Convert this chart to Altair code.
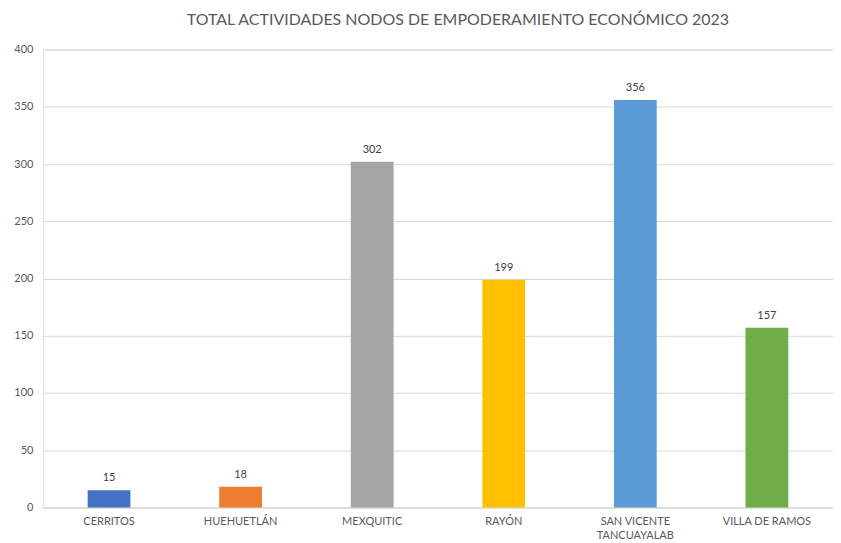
import altair as alt
import pandas as pd

categories = ["CERRITOS", "HUEHUETLÁN", "MEXQUITIC", "RAYÓN", "SAN VICENTE TANCUAYALAB", "VILLA DE RAMOS"]
values = [15, 18, 302, 199, 356, 157]
colors = ["#4472C4", "#ED7D31", "#A5A5A5", "#FFC000", "#5B9BD5", "#70AD47"]

df = pd.DataFrame({"cat": categories, "val": values})

FONT = "Lato"
x = alt.X(
    "cat:N",
    sort=categories,
    title=None,
    scale=alt.Scale(paddingInner=0.675, paddingOuter=0.34),
    axis=alt.Axis(
        labelAngle=0,
        labelFont=FONT,
        labelFontSize=11,
        labelColor="#595959",
        labelPadding=8,
        labelLineHeight=14,
        ticks=False,
        domain=True,
        domainColor="#D9D9D9",
        labelExpr="datum.value == 'SAN VICENTE TANCUAYALAB' ? ['SAN VICENTE', 'TANCUAYALAB'] : datum.label",
    ),
)
y = alt.Y(
    "val:Q",
    title=None,
    scale=alt.Scale(domain=[0, 400]),
    axis=alt.Axis(
        values=[0, 50, 100, 150, 200, 250, 300, 350, 400],
        labelFont=FONT,
        labelFontSize=11,
        labelColor="#595959",
        labelPadding=10,
        ticks=False,
        domain=False,
        gridColor="#D9D9D9",
        gridWidth=1,
    ),
)

bars = alt.Chart(df).mark_bar().encode(
    x=x,
    y=y,
    color=alt.Color("cat:N", scale=alt.Scale(domain=categories, range=colors), legend=None),
)
labels = alt.Chart(df).mark_text(
    baseline="bottom", dy=-7, font=FONT, fontSize=11, color="#404040"
).encode(x=alt.X("cat:N", sort=categories), y="val:Q", text="val:Q")

chart = (
    (bars + labels)
    .properties(
        width=792,
        height=459,
        padding={"left": 5, "top": 3, "right": 0, "bottom": 0},
        title=alt.TitleParams(
            "TOTAL ACTIVIDADES NODOS DE EMPODERAMIENTO ECONÓMICO 2023",
            font=FONT,
            fontSize=16,
            fontWeight="normal",
            color="#595959",
            offset=16,
            dx=20,
        ),
    )
    .configure_view(strokeWidth=0)
    .configure(background="white")
)

chart.save("out.html", embed_options={"renderer": "svg", "actions": False})
